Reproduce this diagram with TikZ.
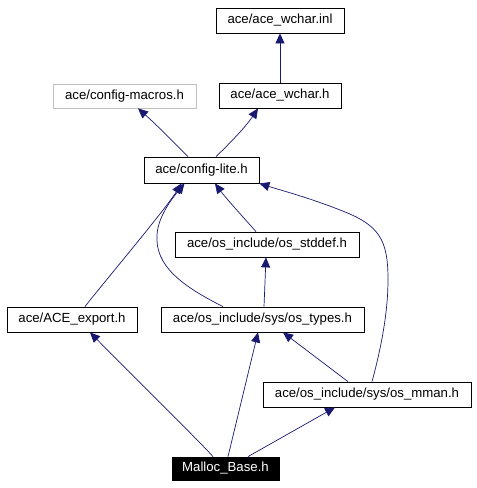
\documentclass[tikz,border=0pt]{standalone}
\usepackage{fontspec}
\setmainfont{Liberation Sans}
\usetikzlibrary{arrows.meta}
\definecolor{edgeblue}{HTML}{191970}
\definecolor{boxgray}{HTML}{BFBFBF}
\begin{document}
\begin{tikzpicture}[x=1pt,y=-1pt,
  box/.style={draw=black,line width=0.8pt,fill=white,inner sep=0pt,font=\fontsize{13.2}{15}\selectfont,text=black},
  graybox/.style={box,draw=boxgray},
  blackbox/.style={box,fill=black,text=white},
  edge/.style={draw=edgeblue,line width=0.7pt,-{Triangle[length=10pt,width=9pt]}}]
\useasboundingbox (0,0) rectangle (477,488);
\node[box,minimum width=128pt,minimum height=25pt] (inl) at (280,20.5) {ace/ace\_wchar.inl};
\node[graybox,minimum width=143pt,minimum height=24pt] (macros) at (124.5,96) {ace/config-macros.h};
\node[box,minimum width=122pt,minimum height=25pt] (wchar) at (280,95.5) {ace/ace\_wchar.h};
\node[box,minimum width=115pt,minimum height=26pt] (lite) at (201.5,170) {ace/config-lite.h};
\node[box,minimum width=184pt,minimum height=25pt] (stddef) at (267,244.5) {ace/os\_include/os\_stddef.h};
\node[box,minimum width=130pt,minimum height=25pt] (export) at (72,319.5) {ace/ACE\_export.h};
\node[box,minimum width=203pt,minimum height=25pt] (types) at (262.5,319.5) {ace/os\_include/sys/os\_types.h};
\node[box,minimum width=208pt,minimum height=25pt] (mman) at (367,394.5) {ace/os\_include/sys/os\_mman.h};
\node[blackbox,minimum width=107pt,minimum height=23pt] (malloc) at (225.5,468.5) {Malloc\_Base.h};

\draw[edge] (wchar.north) -- (inl.south);
\draw[edge] ([xshift=-13.5pt]lite.north) .. controls (176,145) and (158,126) .. ([xshift=13.5pt]macros.south);
\draw[edge] ([xshift=14.5pt]lite.north) .. controls (226,147) and (245,128) .. ([xshift=-22pt]wchar.south);
\draw[edge] ([xshift=13pt]export.north) .. controls (100,287) and (165,210) .. ([xshift=-20pt]lite.south);
\draw[edge] ([xshift=-39.5pt]types.north) .. controls (180,285) and (155,265) .. (157,235) .. controls (158,215) and (175,195) .. ([xshift=-17pt]lite.south);
\draw[edge] ([xshift=-11pt]stddef.north) .. controls (243,217) and (225,197) .. ([xshift=13.5pt]lite.south);
\draw[edge] ([xshift=5pt]mman.north) .. controls (382,345) and (388,310) .. (388,280) .. controls (388,240) and (380,225) .. (340,210) .. controls (310,198) and (280,190) .. (lite.south east);
\draw[edge] ([xshift=1.5pt]types.north) -- ([xshift=-1pt]stddef.south);
\draw[edge] ([xshift=-19pt]mman.north) -- ([xshift=20.5pt]types.south);
\draw[edge] ([xshift=-12.5pt]malloc.north) .. controls (200,442) and (150,393) .. ([xshift=18pt]export.south);
\draw[edge] ([xshift=2.5pt]malloc.north) -- ([xshift=-4.5pt]types.south);
\draw[edge] ([xshift=22.5pt]malloc.north) -- ([xshift=-32pt]mman.south);
\end{tikzpicture}
\end{document}
